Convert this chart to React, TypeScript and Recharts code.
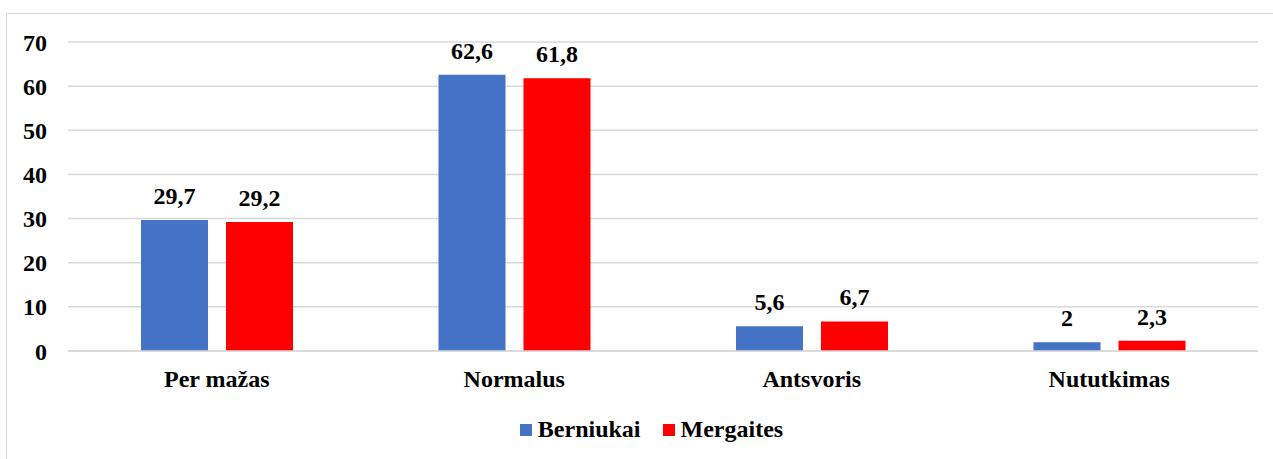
import React from 'react';
import { BarChart, Bar, XAxis, YAxis, CartesianGrid, LabelList } from 'recharts';

const categories = ['Per mažas', 'Normalus', 'Antsvoris', 'Nututkimas'];
const berniukai = [29.7, 62.6, 5.6, 2];
const mergaites = [29.2, 61.8, 6.7, 2.3];
const yTicks = [0, 10, 20, 30, 40, 50, 60, 70];

const SERIES = [
    { key: 'Berniukai', color: '#4472C4', values: berniukai },
    { key: 'Mergaites', color: '#FF0000', values: mergaites },
];

const FONT = 'Liberation Serif';

const fmt = (v: any) => String(v).replace('.', ',');

const data = categories.map((name, i) => ({
    name,
    Berniukai: berniukai[i],
    Mergaites: mergaites[i],
}));

const App: React.FC = () => {
    const textStyle = { fontFamily: FONT, fontSize: 24, fontWeight: 700, fill: '#000' };
    return (
        <div
            style={{
                position: 'fixed',
                left: 0,
                top: 0,
                width: 1273,
                height: 459,
                overflow: 'hidden',
                background: '#fff',
            }}
        >
            <div
                style={{
                    position: 'absolute',
                    left: 6,
                    top: 13,
                    width: 1300,
                    height: 500,
                    border: '1px solid #d9d9d9',
                }}
            />
            <div style={{ position: 'absolute', left: 0, top: 0 }}>
                <BarChart
                    width={1273}
                    height={459}
                    data={data}
                    margin={{ top: 42, right: 15, left: 0, bottom: 68 }}
                    barSize={67}
                    barGap={18}
                >
                    <CartesianGrid vertical={false} stroke="#d9d9d9" strokeWidth={1.5} />
                    <XAxis
                        dataKey="name"
                        height={40}
                        axisLine={{ stroke: '#d9d9d9', strokeWidth: 1.5 }}
                        tickLine={false}
                        tickMargin={13}
                        tick={textStyle}
                        interval={0}
                    />
                    <YAxis
                        width={68}
                        domain={[0, 70]}
                        ticks={yTicks}
                        axisLine={false}
                        tickLine={false}
                        tickMargin={15}
                        tick={textStyle}
                    />
                    {SERIES.map((s) => (
                        <Bar key={s.key} dataKey={s.key} fill={s.color} isAnimationActive={false}>
                            <LabelList
                                dataKey={s.key}
                                position="top"
                                offset={16}
                                formatter={fmt}
                                style={textStyle}
                            />
                        </Bar>
                    ))}
                </BarChart>
            </div>
            <div
                style={{
                    position: 'absolute',
                    left: 0,
                    top: 416,
                    width: 1273,
                    display: 'flex',
                    justifyContent: 'center',
                    alignItems: 'center',
                    fontFamily: FONT,
                    fontSize: 24,
                    fontWeight: 700,
                    color: '#000',
                    paddingLeft: 30,
                    boxSizing: 'border-box',
                }}
            >
                {SERIES.map((s, i) => (
                    <div
                        key={s.key}
                        style={{ display: 'flex', alignItems: 'center', marginRight: i === 0 ? 22 : 0 }}
                    >
                        <span
                            style={{
                                display: 'inline-block',
                                width: 12,
                                height: 12,
                                background: s.color,
                                marginRight: 6,
                            }}
                        />
                        <span>{s.key}</span>
                    </div>
                ))}
            </div>
        </div>
    );
};

export default App;
